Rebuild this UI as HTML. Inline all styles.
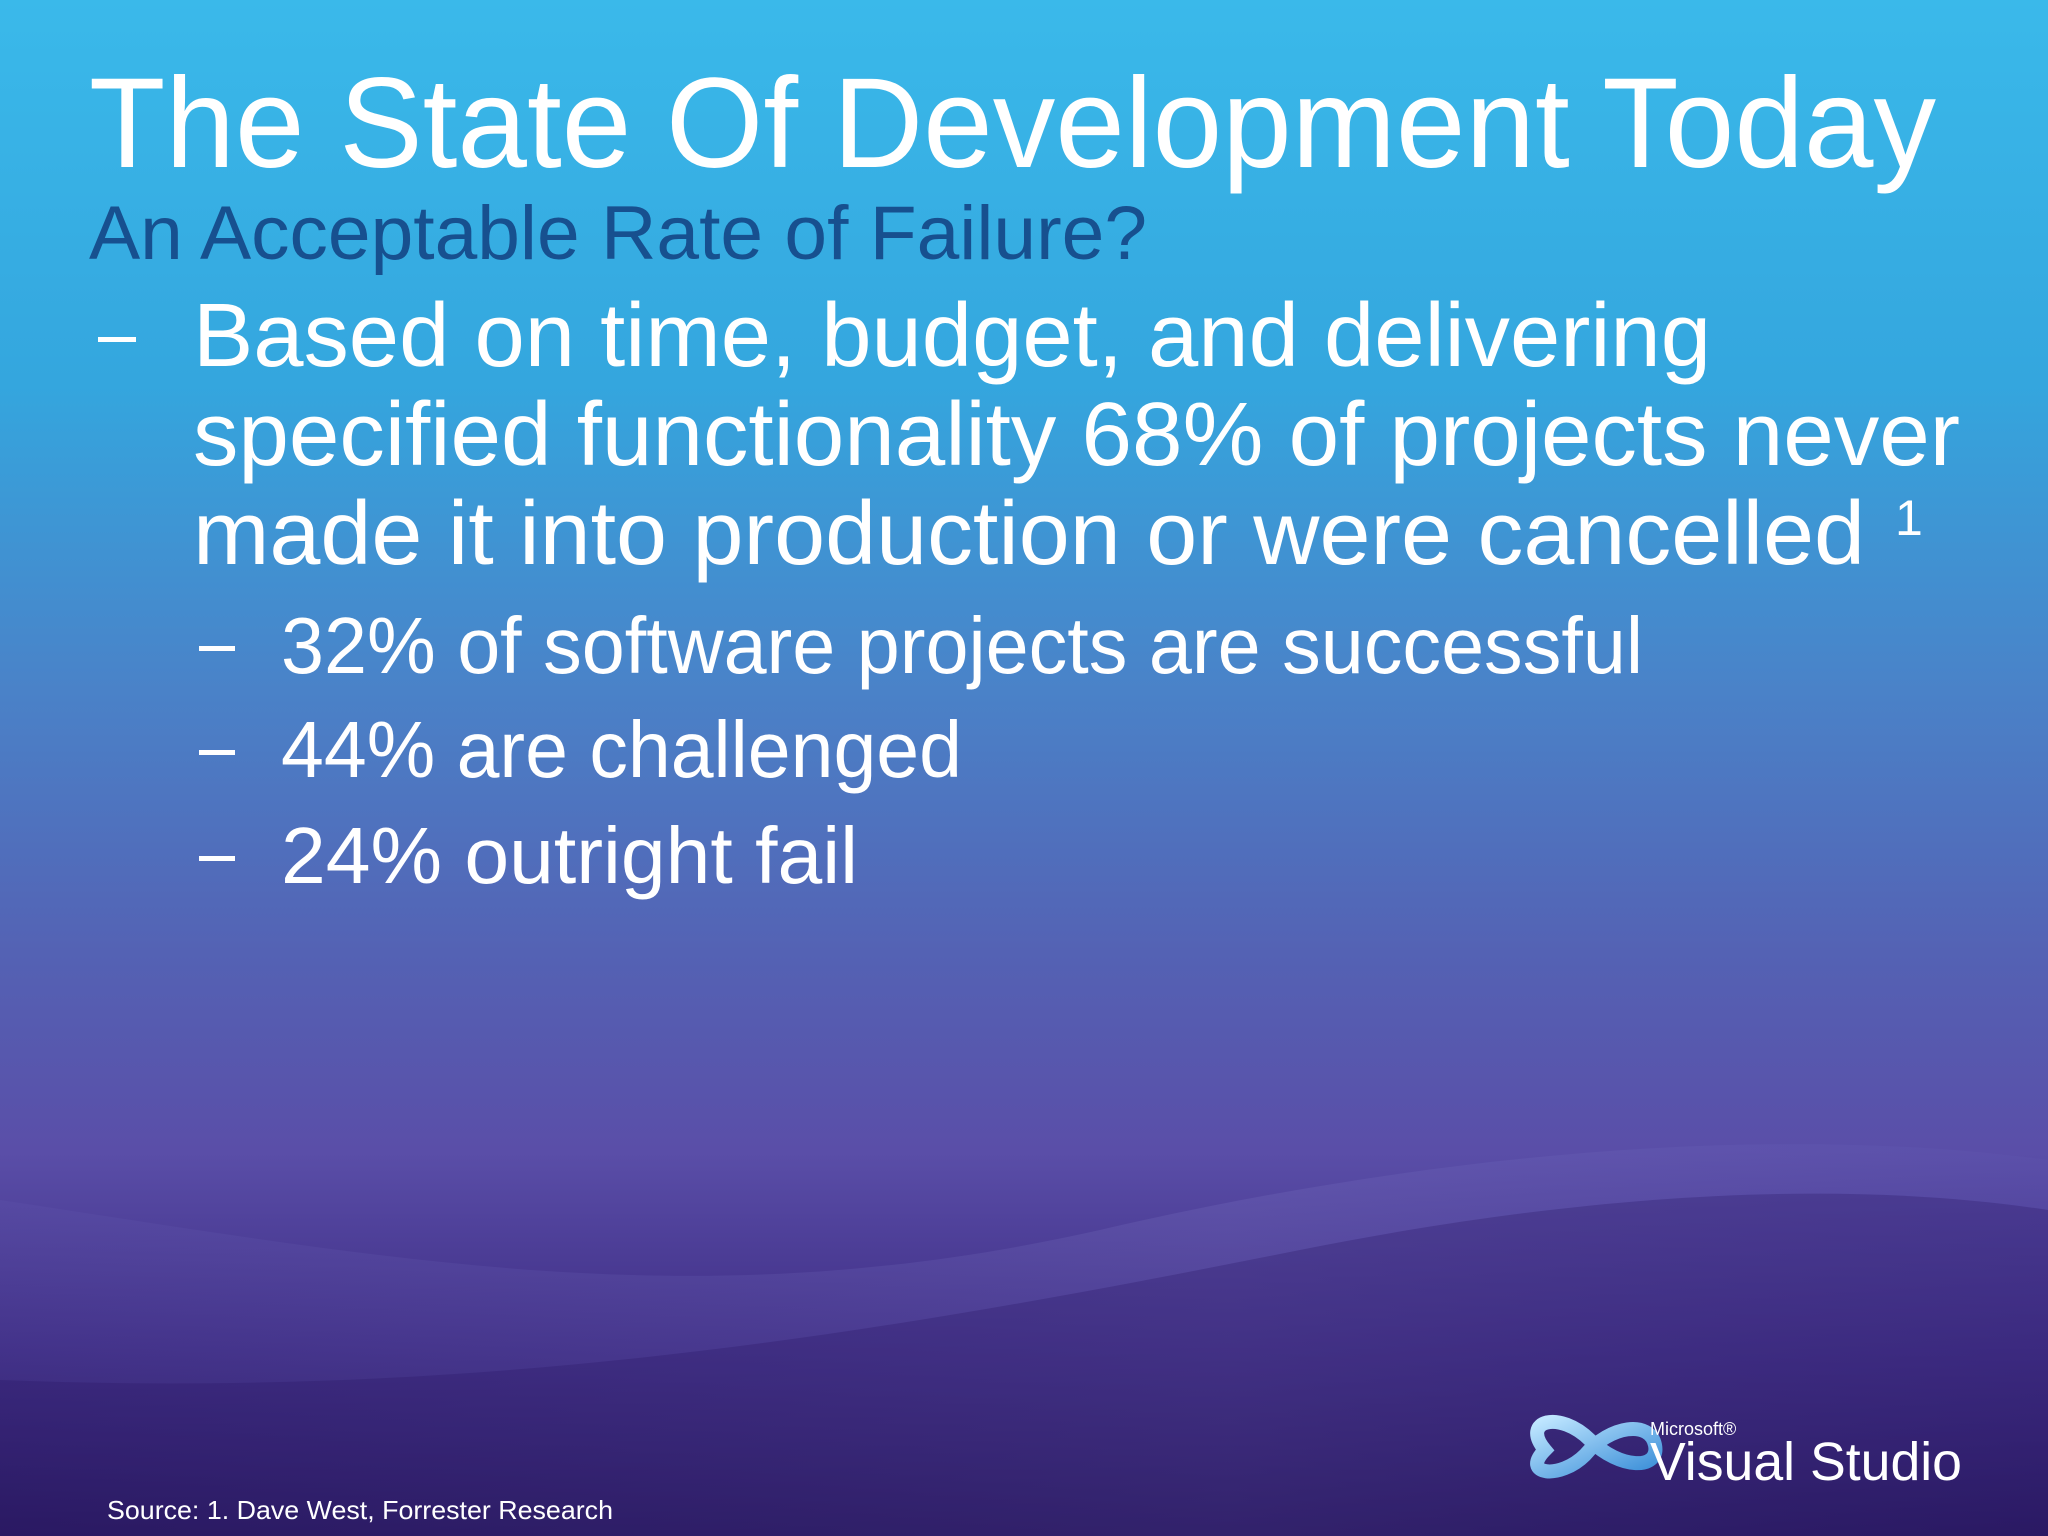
<!DOCTYPE html>
<html><head><meta charset="utf-8"><style>
html,body{margin:0;padding:0;width:2048px;height:1536px;overflow:hidden}
svg{display:block}
text{font-family:"Liberation Sans","DejaVu Sans",sans-serif}
</style></head><body>
<svg width="2048" height="1536" viewBox="0 0 2048 1536" xmlns="http://www.w3.org/2000/svg">
<defs>
<linearGradient id="bg" x1="0" y1="0" x2="0" y2="1">
<stop offset="0" stop-color="#3ab9ea"/>
<stop offset="0.25" stop-color="#34a6de"/>
<stop offset="0.45" stop-color="#4a82c8"/>
<stop offset="0.62" stop-color="#5462b4"/>
<stop offset="0.75" stop-color="#5a4ea8"/>
<stop offset="0.88" stop-color="#3e2c84"/>
<stop offset="1" stop-color="#231258"/>
</linearGradient>
<linearGradient id="wave" x1="0" y1="0" x2="1" y2="0">
<stop offset="0" stop-color="#7a78c8" stop-opacity="0.08"/>
<stop offset="0.6" stop-color="#8a86d0" stop-opacity="0.18"/>
<stop offset="1" stop-color="#6a64bc" stop-opacity="0.1"/>
</linearGradient>
<linearGradient id="ring" x1="0" y1="0" x2="1" y2="1">
<stop offset="0" stop-color="#bfe6ff"/><stop offset="1" stop-color="#3a8ed8"/>
</linearGradient>
</defs>
<rect width="2048" height="1536" fill="url(#bg)"/>
<path d="M0 1200 C400 1260 700 1320 1100 1230 C1400 1160 1750 1120 2048 1160 L2048 1536 L0 1536 Z" fill="url(#wave)"/>
<path d="M0 1380 C500 1400 900 1330 1300 1250 C1600 1190 1850 1180 2048 1210 L2048 1536 L0 1536 Z" fill="#2a1868" opacity="0.3"/>

<text x="89" y="167" font-size="128" fill="#ffffff" textLength="1847" lengthAdjust="spacingAndGlyphs">The State Of Development Today</text>
<text x="89" y="259" font-size="76" fill="#17508f" textLength="1058" lengthAdjust="spacingAndGlyphs">An Acceptable Rate of Failure?</text>

<g fill="#ffffff">
<rect x="98" y="337" width="38" height="5"/>
<text x="193" y="366" font-size="90" textLength="1518" lengthAdjust="spacingAndGlyphs">Based on time, budget, and delivering</text>
<text x="193" y="465" font-size="90" textLength="1767" lengthAdjust="spacingAndGlyphs">specified functionality 68% of projects never</text>
<text x="193" y="564" font-size="90" textLength="1672" lengthAdjust="spacingAndGlyphs">made it into production or were cancelled</text>
<text x="1895" y="535" font-size="50">1</text>
</g>

<g fill="#ffffff">
<rect x="199" y="646" width="36" height="5"/>
<text x="281" y="673" font-size="80" textLength="1362" lengthAdjust="spacingAndGlyphs">32% of software projects are successful</text>
<rect x="199" y="750" width="36" height="5"/>
<text x="281" y="777" font-size="80" textLength="681" lengthAdjust="spacingAndGlyphs">44% are challenged</text>
<rect x="199" y="856" width="36" height="5"/>
<text x="281" y="883" font-size="80" textLength="577" lengthAdjust="spacingAndGlyphs">24% outright fail</text>
</g>

<text x="107" y="1519" font-size="26" fill="#ffffff" textLength="506" lengthAdjust="spacingAndGlyphs">Source: 1. Dave West, Forrester Research</text>

<g>
<path d="M1545 1450 C1520 1420 1560 1410 1590 1440 C1620 1470 1660 1470 1655 1445 C1650 1420 1610 1425 1585 1455 C1560 1480 1520 1475 1545 1450 Z" fill="none" stroke="url(#ring)" stroke-width="14"/>
<text x="1650" y="1435" font-size="18" fill="#ffffff">Microsoft®</text>
<text x="1650" y="1480" font-size="54" fill="#ffffff" textLength="312" lengthAdjust="spacingAndGlyphs">Visual Studio</text>
</g>
</svg>
</body></html>
